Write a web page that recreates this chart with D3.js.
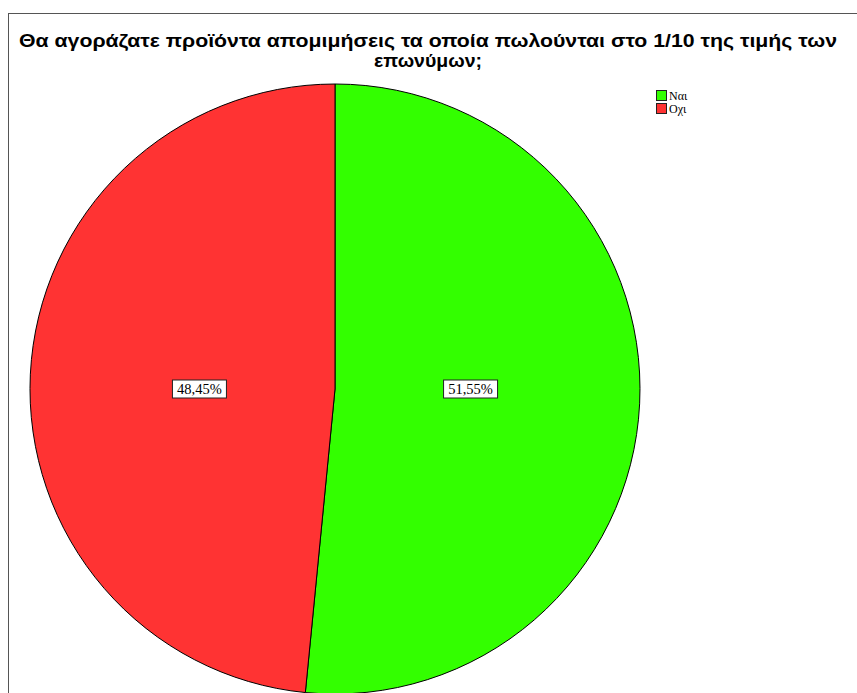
<!DOCTYPE html>
<html>
<head>
<meta charset="utf-8">
<script src="https://cdn.jsdelivr.net/npm/d3@7"></script>
<style>
  html, body { margin: 0; padding: 0; background: #fff; }
  svg { display: block; }
</style>
</head>
<body>
<svg id="chart" width="857" height="693"></svg>
<script>
const categories = ["Ναι", "Οχι"];
const values = [51.55, 48.45];
const labels = ["51,55%", "48,45%"];
const colors = ["#33ff00", "#ff3333"];
const titleLines = ["Θα αγοράζατε προϊόντα απομιμήσεις τα οποία πωλούνται στο 1/10 της τιμής των", "επωνύμων;"];

const svg = d3.select("#chart");

// frame
svg.append("rect").attr("x", 8.5).attr("y", 13.5).attr("width", 900).attr("height", 900)
  .attr("fill", "#fff").attr("stroke", "#555").attr("stroke-width", 1);

// title
const title = svg.append("text").attr("text-anchor", "middle")
  .attr("font-family", "'Liberation Sans', Arial, sans-serif")
  .attr("font-weight", "bold").attr("font-size", 18.5).attr("fill", "#000");
titleLines.forEach((t, i) => {
  const ts = title.append("tspan").attr("x", 428).attr("y", 47 + i * 20).text(t);
  if (i === 0) ts.attr("textLength", 818).attr("lengthAdjust", "spacingAndGlyphs");
  else ts.attr("textLength", 108).attr("lengthAdjust", "spacingAndGlyphs");
});

// pie
const cx = 335, cy = 389, r = 305;
const pie = d3.pie().sort(null).value(d => d)(values);
const arc = d3.arc().innerRadius(0).outerRadius(r);
const g = svg.append("g").attr("transform", `translate(${cx},${cy})`);
g.selectAll("path").data(pie).join("path")
  .attr("d", arc)
  .attr("fill", (d, i) => colors[i])
  .attr("stroke", "#000").attr("stroke-width", 1);

// labels
const lg = g.selectAll("g.lab").data(pie).join("g").attr("class", "lab")
  .attr("transform", d => {
    const a = (d.startAngle + d.endAngle) / 2;
    return `translate(${Math.sin(a) * r * 0.445},0)`;
  });
lg.append("rect")
  .attr("x", -27).attr("y", -9).attr("width", 54).attr("height", 18)
  .attr("fill", "#fff").attr("stroke", "#222").attr("stroke-width", 1);
lg.append("text")
  .attr("text-anchor", "middle").attr("dy", "0.35em")
  .attr("font-family", "'Liberation Serif', 'Times New Roman', serif")
  .attr("font-size", 14.5).attr("fill", "#000")
  .text((d, i) => labels[i]);

// legend
const leg = svg.append("g").attr("transform", "translate(656,90)");
const items = leg.selectAll("g").data(categories).join("g")
  .attr("transform", (d, i) => `translate(0,${i * 13})`);
items.append("rect").attr("x", 0.5).attr("y", 0.5).attr("width", 10).attr("height", 10)
  .attr("fill", (d, i) => colors[i]).attr("stroke", "#222").attr("stroke-width", 1);
items.append("text").attr("x", 13).attr("y", 9.5)
  .attr("font-family", "'Liberation Serif', 'Times New Roman', serif")
  .attr("font-size", 12).attr("fill", "#000").text(d => d);
</script>
</body>
</html>
